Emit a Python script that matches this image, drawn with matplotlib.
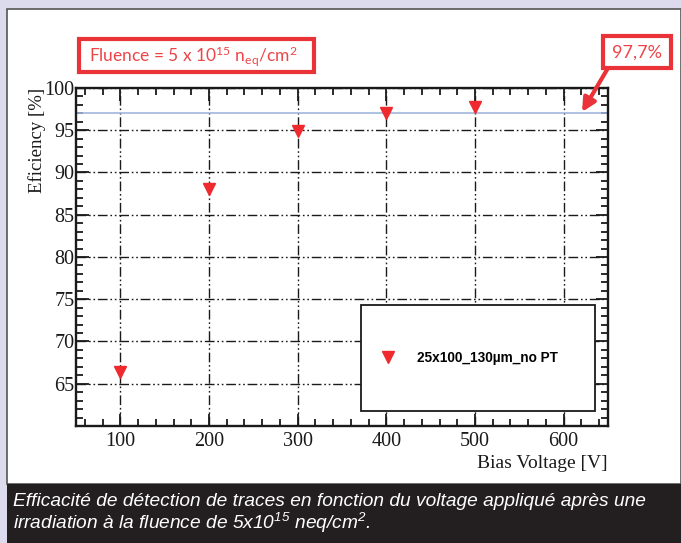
import numpy as np
import matplotlib
matplotlib.use("Agg")
import matplotlib.pyplot as plt
from matplotlib.patches import Rectangle, FancyArrowPatch
from matplotlib.ticker import MultipleLocator

plt.rcParams['mathtext.default'] = 'regular'

# data
voltage = [100, 200, 300, 400, 500]
efficiency = [66.4, 88.1, 94.9, 97.1, 97.7]
plateau = 97.0
series_label = "25x100_130\u00b5m_no PT"
fluence_text = r"Fluence = 5 x 10$^{15}$ n$_{eq}$/cm$^{2}$"
plateau_text = "97,7%"
caption_1 = "Efficacité de détection de traces en fonction du voltage appliqué après une"
caption_2 = r"irradiation à la fluence de 5x10$^{15}$ neq/cm$^{2}$."

W, H = 681, 543
fig = plt.figure(figsize=(W / 100, H / 100), dpi=100, facecolor='#dcdbee')

def px(x, y):
    # pixel (from top-left) -> figure fraction
    return x / W, 1 - y / H

red = '#ea3338'
ink = '#1a1a1a'

# white panel + dark caption bar (behind the axes)
fig.patches.append(Rectangle(px(7, 484), (W - 7) / W, (484 - 9) / H, transform=fig.transFigure,
                             facecolor='white', edgecolor='#555555', lw=1.2, zorder=-5))
fig.patches.append(Rectangle(px(7, 543), (W - 7) / W, (543 - 484) / H, transform=fig.transFigure,
                             facecolor='#231f20', edgecolor='none', zorder=-4))

# axes
l, t, r, b = 76, 88, 608, 426
ax = fig.add_axes([l / W, 1 - b / H, (r - l) / W, (b - t) / H])
ax.set_facecolor('none')
ax.set_xlim(50, 650)
ax.set_ylim(60, 100)
ax.xaxis.set_major_locator(MultipleLocator(100))
ax.xaxis.set_minor_locator(MultipleLocator(20))
ax.yaxis.set_minor_locator(MultipleLocator(1))
ax.set_yticks([65, 70, 75, 80, 85, 90, 95, 100])
ax.tick_params(which='both', direction='in', top=True, right=True, width=1.3, color=ink)
ax.tick_params(which='major', length=9, labelsize=14.5)
ax.tick_params(axis='y', which='major', pad=1)
ax.tick_params(axis='x', which='major', pad=4)
ax.tick_params(which='minor', length=5)
for lab in ax.get_xticklabels() + ax.get_yticklabels():
    lab.set_family('Liberation Serif')
    lab.set_color(ink)
for s in ax.spines.values():
    s.set_linewidth(1.7)
    s.set_color(ink)
ax.grid(True, which='major', color=ink, lw=1.0, linestyle=(0, (7, 2, 1.2, 2, 1.2, 2)))

ax.axhline(plateau, color='#9fb6dd', lw=1.2, zorder=2)
pts, = ax.plot(voltage, efficiency, linestyle='none', marker='v', markersize=9,
               color='#ee2a2f', zorder=4, label=series_label)

ax.set_ylabel("Eficiency [%]", family='Liberation Serif', fontsize=13.5, color=ink)
ax.yaxis.set_label_coords(-0.057, 1.0)
ax.yaxis.label.set_ha('right')
ax.set_xlabel("Bias Voltage [V]", family='Liberation Serif', fontsize=14, color=ink)
ax.xaxis.set_label_coords(1.0, -0.085)
ax.xaxis.label.set_ha('right')

# legend box
fig.patches.append(Rectangle(px(361, 411), (595 - 361) / W, (411 - 305) / H, transform=fig.transFigure,
                             facecolor='white', edgecolor=ink, lw=1.3, zorder=5))
leg = fig.legend(handles=[pts], loc='center left', bbox_to_anchor=px(368, 358), frameon=False,
                 prop={'family': 'Liberation Sans', 'weight': 'bold', 'size': 9.8},
                 handlelength=1.2, handletextpad=1.5)
leg.set_zorder(6)

# fluence box
fig.patches.append(Rectangle(px(79, 72), (314 - 79) / W, (72 - 39) / H, transform=fig.transFigure,
                             facecolor='white', edgecolor=red, lw=3))
fig.text(*px(193, 56), fluence_text, ha='center', va='center', color='#ee4448',
         family='Lato', fontsize=12.5)

# 97,7% box with arrow
fig.patches.append(Rectangle(px(603, 68), (671 - 603) / W, (68 - 36) / H, transform=fig.transFigure,
                             facecolor='white', edgecolor=red, lw=3))
fig.text(*px(637, 53), plateau_text, ha='center', va='center', color='#ee4448',
         family='Lato', fontsize=13)
fig.patches.append(FancyArrowPatch(px(608, 68), px(582, 112), transform=fig.transFigure,
                                   arrowstyle='-|>,head_length=8,head_width=4', color=red,
                                   lw=3, shrinkA=0, shrinkB=0))

# caption
fig.text(*px(13, 502), caption_1, color='white', style='italic', family='Liberation Sans',
         fontsize=13.8, va='center')
fig.text(*px(13, 523), caption_2, color='white', style='italic', family='Liberation Sans',
         fontsize=13.8, va='center')

fig.savefig('out.png', dpi=100, facecolor=fig.get_facecolor())
